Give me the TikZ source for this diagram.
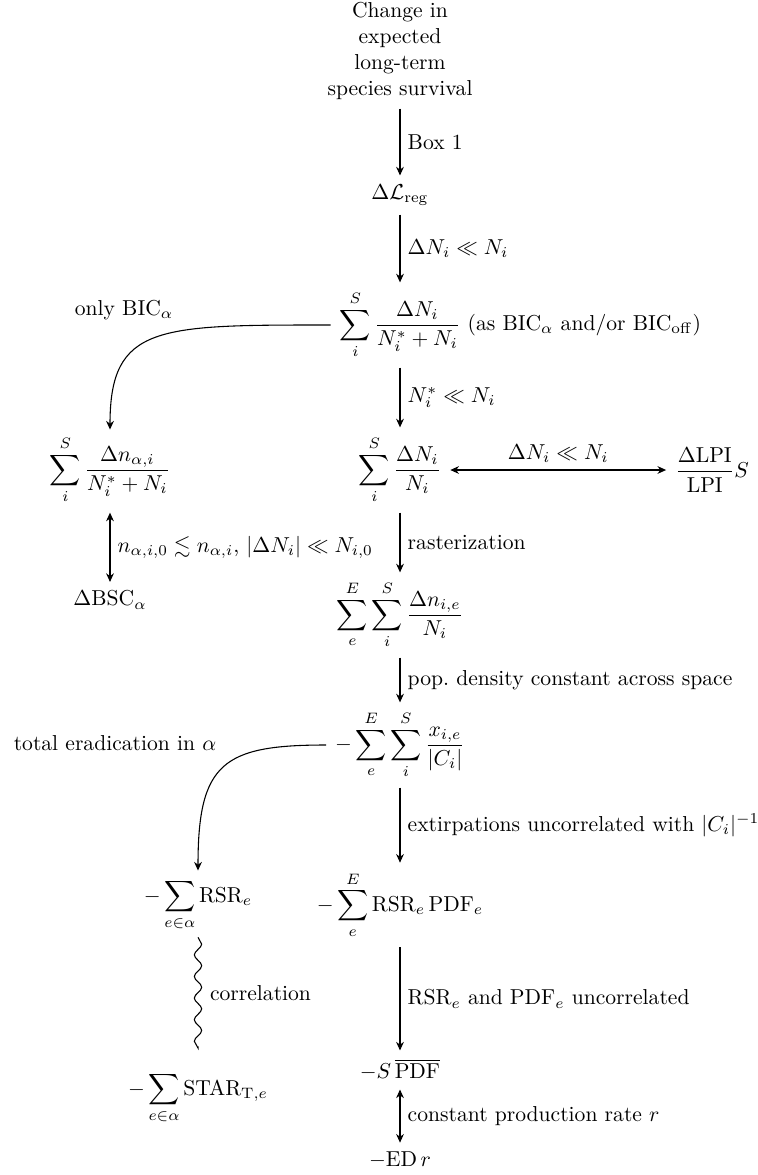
\documentclass[tikz,border=0pt]{standalone}
\usepackage{amsmath}
\usepackage{amssymb}
\usepackage{tikz}
\usetikzlibrary{arrows.meta,decorations.pathmorphing}

\begin{document}
\begin{tikzpicture}[x=0.463pt,y=-0.463pt]%
  \tikzstyle{term}=[inner sep=3pt]
  \tikzstyle{imp}=[line width=0.5pt,-{Stealth[length=4pt,width=3.6pt]},shorten >=1pt,shorten <=1pt]
  \tikzstyle{both}=[line width=0.5pt,{Stealth[length=4pt,width=3.6pt]}-{Stealth[length=4pt,width=3.6pt]},shorten >=1pt,shorten <=1pt]
  \tikzstyle{wave}=[line width=0.5pt,decorate,decoration={snake,amplitude=1.7pt,segment length=10pt,post length=4pt},shorten >=9pt]
  \tikzstyle{lbl}=[midway,right]
  \useasboundingbox (0,0) rectangle (757,1175);
  % main column
  \node(top)[term,align=center] at (400,51) {Change in\\expected\\long-term\\species survival};
  \node(dl)[term] at (400,195) {$\Delta\mathcal{L}_{\mathrm{reg}}$};
  \node(bic)[term] at (400,325) {$\displaystyle\sum_i^S \frac{\Delta N_i}{N_i^*+N_i}$};
  \node(bicnote)[anchor=west,inner sep=0pt] at (bic.east) {(as BIC$_\alpha$ and/or BIC$_{\mathrm{off}}$)};
  \node(rel)[term] at (400,470) {$\displaystyle\sum_i^S\frac{\Delta N_i}{N_i}$};
  \node(rast)[term] at (400,615) {$\displaystyle\sum_e^E\sum_i^S\frac{\Delta n_{i,e}}{N_i}$};
  \node(pop)[term] at (400,745) {$\displaystyle-\sum_e^E\sum_i^S\frac{x_{i,e}}{|C_i|}$};
  \node(rsrpdf)[term] at (400,905) {$\displaystyle-\sum_e^E\mathrm{RSR}_e\,\mathrm{PDF}_e$};
  \node(spdf)[term] at (400,1070) {$-S\,\overline{\mathrm{PDF}}$};
  \node(ed)[term] at (400,1160) {$-\mathrm{ED}\,r$};
  % side terms
  \node(lpi)[term] at (712,470) {$\dfrac{\Delta\mathrm{LPI}}{\mathrm{LPI}}S$};
  \node(alpha)[term] at (110,470) {$\displaystyle\sum_i^S\frac{\Delta n_{\alpha,i}}{N_i^*+N_i}$};
  \node(bsc)[term] at (110,600) {$\Delta\mathrm{BSC}_\alpha$};
  \node(rsra)[term] at (198,905) {$\displaystyle-\sum_{e\in\alpha}\mathrm{RSR}_e$};
  \node(star)[term] at (198,1098) {$\displaystyle-\sum_{e\in\alpha}\mathrm{STAR}_{\mathrm{T},e}$};
  \node(onlyl) at (124,310) {only BIC$_\alpha$};
  \node(totl) at (115,743) {total eradication in $\alpha$};
  % arrows
  \draw[imp] (top) -- node[lbl]{Box 1} (dl);
  \draw[imp] (dl) -- node[lbl]{$\Delta N_i\ll N_i$} (bic);
  \draw[imp] (bic) -- node[lbl]{$N_i^*\ll N_i$} (rel);
  \draw[both] (rel) -- node[midway,above]{$\Delta N_i\ll N_i$} (lpi);
  \draw[both] (alpha) -- node[lbl]{$n_{\alpha,i,0}\lesssim n_{\alpha,i}$, $|\Delta N_i|\ll N_{i,0}$} (bsc);
  \draw[imp] (rel) -- node[lbl]{rasterization} (rast);
  \draw[imp] (rast) -- node[lbl]{pop.\ density constant across space} (pop);
  \draw[imp] (pop) -- node[lbl]{extirpations uncorrelated with $|C_i|^{-1}$} (rsrpdf);
  \draw[imp] (rsrpdf) -- node[lbl]{RSR$_e$ and PDF$_e$ uncorrelated} (spdf);
  \draw[both] (spdf) -- node[lbl]{constant production rate $r$} (ed);
  \draw[wave] (rsra) -- node[lbl,xshift=2pt,yshift=4pt]{correlation} (star);
  \draw[imp,shorten >=0pt] (bic.west) .. controls +(-175,0) and +(0,-105) .. (alpha.north);
  \draw[imp] (pop.west) .. controls +(-105,0) and +(0,-110) .. (rsra.north);
\end{tikzpicture}
\end{document}
